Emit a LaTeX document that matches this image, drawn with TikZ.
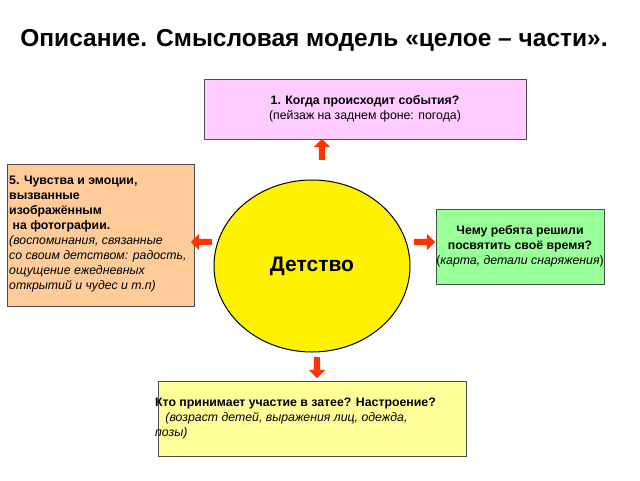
\documentclass[tikz,border=0pt]{standalone}
\usepackage{fontspec}
\setmainfont{Liberation Sans}
\usetikzlibrary{shapes.geometric,shapes.arrows,positioning}
\definecolor{boxpink}{HTML}{FFCCFF}
\definecolor{boxorange}{HTML}{FFCC99}
\definecolor{boxgreen}{HTML}{99FF99}
\definecolor{boxyellow}{HTML}{FFFF99}
\definecolor{arrowred}{HTML}{FF3300}
\begin{document}
\begin{tikzpicture}[x=1pt,y=-1pt,
    infobox/.style={draw=black!70, line width=0.6pt, inner sep=0pt},
    blockarrow/.style={single arrow, fill=arrowred, draw=none, minimum height=21pt,
        inner sep=3pt, single arrow head extend=5pt},
    every node/.style={font=\fontsize{12.3}{15}\selectfont}
    ]
    \useasboundingbox (0,0) rectangle (640,480);
    \node[font=\fontsize{24.5}{28}\bfseries\selectfont] (title) at (314,40)
        {Описание. Смысловая модель «целое – части».};
    % boxes
    \draw[infobox, fill=boxpink] (204,79) rectangle (526,139);
    \draw[infobox, fill=boxorange] (7,164) rectangle (194,306);
    \draw[infobox, fill=boxgreen] (436,209) rectangle (604,284);
    \draw[infobox, fill=boxyellow] (158,381) rectangle (466,456);
    \node[align=center] (when) at (365,109)
        {\textbf{1. Когда происходит события?}\\(пейзаж на заднем фоне: погода)};
    \node[align=left, anchor=north west, inner sep=0pt] (feel) at (9,176)
        {\textbf{5. Чувства и эмоции,}\\\textbf{вызванные}\\\textbf{изображённым}\\
         \textbf{\ на фотографии.}\\\textit{(воспоминания, связанные}\\
         \textit{со своим детством: радость,}\\\textit{ощущение ежедневных}\\
         \textit{открытий и чудес и т.п)}};
    \node[align=center] (why) at (520,246)
        {\textbf{Чему ребята решили}\\\textbf{посвятить своё время?}\\(\textit{карта, детали снаряжения})};
    \node[align=left, anchor=north west, inner sep=0pt] (who) at (155,398)
        {\textbf{Кто принимает участие в затее? Настроение?}\\
         \textit{\ \ \ (возраст детей, выражения лиц, одежда,}\\\textit{позы)}};
    % centre
    \node[ellipse, draw, line width=1pt, fill=yellow, minimum width=196pt,
        minimum height=172pt, font=\fontsize{21}{24}\bfseries\selectfont] (centre) at (312,266) {Детство};
    % arrows
    \node[blockarrow, shape border rotate=90] (up) at (322,151) {};
    \node[blockarrow, shape border rotate=180] (left) at (203,242) {};
    \node[blockarrow] (right) at (423,242) {};
    \node[blockarrow, shape border rotate=270] (down) at (317,366) {};
\end{tikzpicture}
\end{document}
